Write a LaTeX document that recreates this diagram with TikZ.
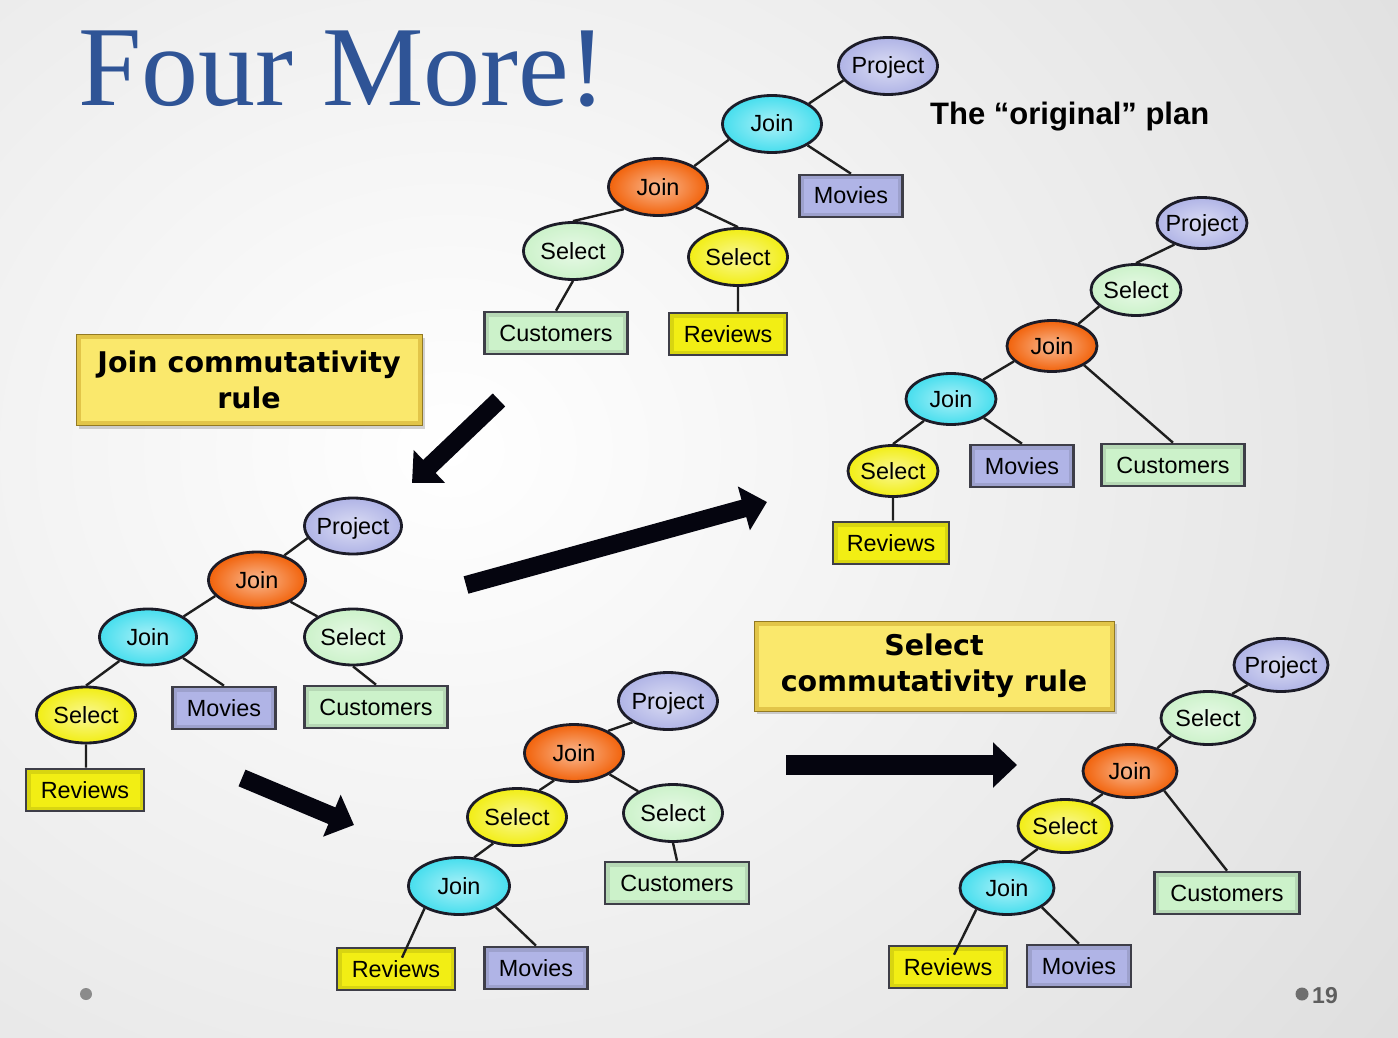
\documentclass[tikz,border=0pt]{standalone}
\usepackage{fontspec}
\setmainfont{Liberation Sans}
\newfontfamily\titleserif{Liberation Serif}
\newfontfamily\rulesans{DejaVu Sans}
\usetikzlibrary{shapes.geometric,arrows.meta,shadows}

% palette
\definecolor{projC}{RGB}{176,180,230}
\definecolor{cyanC}{RGB}{70,222,238}
\definecolor{orangeC}{RGB}{242,98,10}
\definecolor{greenC}{RGB}{204,242,202}
\definecolor{yellowC}{RGB}{242,238,20}
\definecolor{outlineC}{RGB}{28,28,40}
\definecolor{wireC}{RGB}{30,30,30}
\definecolor{ruleY}{RGB}{250,232,108}
\definecolor{ruleEdge}{RGB}{210,174,50}
\definecolor{titleblue}{RGB}{47,84,150}
\definecolor{bgOuter}{RGB}{212,212,212}
\definecolor{footC}{RGB}{110,110,110}
\definecolor{arrowC}{RGB}{5,5,15}

% zero-width label so the shape size comes only from the minimum dimensions
\newcommand\lbl[1]{\makebox[0pt][c]{#1}}
\newcommand\nodefont{\fontsize{23.4pt}{28pt}\selectfont}

\begin{document}
\begin{tikzpicture}[x=1pt,y=-1pt,
  opnode/.style={ellipse, draw=outlineC, line width=2.8pt, inner sep=0pt,
    minimum width=99pt, minimum height=57pt, text height=16pt, text depth=0pt,
    font=\nodefont, inner color=#1!45!white, outer color=#1},
  projnode/.style={opnode=projC},
  joinc/.style={opnode=cyanC},
  joino/.style={opnode=orangeC},
  selg/.style={opnode=greenC},
  sely/.style={opnode=yellowC},
  relbox/.style={rectangle, draw=outlineC!85!white, line width=2.6pt, inner sep=0pt,
    minimum height=42pt, text height=16pt, text depth=0pt, font=\nodefont, fill=#1,
    path picture={\draw[line width=9pt, #1!70!black, opacity=.35]
      (path picture bounding box.south west) rectangle (path picture bounding box.north east);}},
  movbox/.style={relbox=projC, minimum width=103pt},
  custbox/.style={relbox=greenC, minimum width=143pt},
  revbox/.style={relbox=yellowC, minimum width=118pt},
  small/.style={minimum width=90pt, minimum height=51pt},
  medium/.style={minimum width=94pt, minimum height=53pt},
  wire/.style={draw=wireC, line width=2.4pt},
  rulebox/.style={rectangle, fill=ruleY, draw=ruleEdge!70!black, line width=0.8pt,
    align=center, inner sep=0pt,
    font=\rulesans\bfseries\fontsize{28.5pt}{36pt}\selectfont,
    drop shadow={shadow xshift=3pt, shadow yshift=-3pt, opacity=.35},
    path picture={\draw[line width=9pt, ruleEdge, opacity=.6]
      (path picture bounding box.south west) rectangle (path picture bounding box.north east);}},
  bigarrow/.style={draw=arrowC, line width=18pt, -{Triangle[length=24pt,width=44pt]}}
]
\useasboundingbox (0,0) rectangle (1398,1038);

% slide background
\begin{scope}
  \clip (0,0) rectangle (1398,1038);
  \shade[inner color=white, outer color=bgOuter] (-1100,-900) rectangle (2000,1800);
\end{scope}

% title and caption
\node[anchor=base west, inner sep=0pt, font=\titleserif\fontsize{114pt}{114pt}\selectfont,
      text=titleblue] (title) at (78,106) {Four More!};
\node[anchor=base west, inner sep=0pt, font=\bfseries\fontsize{31pt}{36pt}\selectfont]
      (caption) at (930,125) {The “original” plan};

% ---- plan 1 (top)
\node[projnode] (t1p) at (888,66) {\lbl{Project}};
\node[joinc] (t1j1) at (772,124) {\lbl{Join}};
\node[joino] (t1j2) at (658,187) {\lbl{Join}};
\node[selg] (t1s1) at (573,251) {\lbl{Select}};
\node[sely] (t1s2) at (738,257) {\lbl{Select}};
\node[movbox] (t1m) at (851,196) {Movies};
\node[custbox] (t1c) at (556,333) {Customers};
\node[revbox] (t1r) at (728,334) {Reviews};

% ---- plan 2 (left)
\node[projnode, minimum width=97pt, minimum height=56pt] (t2p) at (353,526) {\lbl{Project}};
\node[joino, minimum width=97pt, minimum height=56pt] (t2j) at (257,580) {\lbl{Join}};
\node[joinc, minimum width=97pt, minimum height=56pt] (t2jc) at (148,637) {\lbl{Join}};
\node[selg, minimum width=97pt, minimum height=56pt] (t2sg) at (353,637) {\lbl{Select}};
\node[sely, minimum width=99pt, minimum height=56pt] (t2sy) at (86,715) {\lbl{Select}};
\node[movbox] (t2m) at (224,708) {Movies};
\node[custbox] (t2c) at (376,707) {Customers};
\node[revbox] (t2r) at (85,790) {Reviews};

% ---- plan 3 (upper right)
\node[projnode, small] (t3p) at (1202,223) {\lbl{Project}};
\node[selg, small] (t3s) at (1136,290) {\lbl{Select}};
\node[joino, small] (t3j) at (1052,346) {\lbl{Join}};
\node[joinc, small] (t3jc) at (951,399) {\lbl{Join}};
\node[sely, small] (t3sy) at (893,471) {\lbl{Select}};
\node[movbox] (t3m) at (1022,466) {Movies};
\node[custbox] (t3c) at (1173,465) {Customers};
\node[revbox, minimum width=116pt] (t3r) at (891,543) {Reviews};

% ---- plan 4 (bottom middle)
\node[projnode] (t4p) at (668,701) {\lbl{Project}};
\node[joino] (t4j) at (574,753) {\lbl{Join}};
\node[sely] (t4sy) at (517,817) {\lbl{Select}};
\node[selg] (t4sg) at (673,813) {\lbl{Select}};
\node[joinc, minimum width=101pt] (t4jc) at (459,886) {\lbl{Join}};
\node[custbox, minimum width=144pt] (t4c) at (677,883) {Customers};
\node[revbox] (t4r) at (396,969) {Reviews};
\node[movbox] (t4m) at (536,968) {Movies};

% ---- plan 5 (bottom right)
\node[projnode, medium] (t5p) at (1281,665) {\lbl{Project}};
\node[selg, medium] (t5s) at (1208,718) {\lbl{Select}};
\node[joino, medium] (t5j) at (1130,771) {\lbl{Join}};
\node[sely, medium] (t5sy) at (1065,826) {\lbl{Select}};
\node[joinc, medium] (t5jc) at (1007,888) {\lbl{Join}};
\node[custbox, minimum width=145pt] (t5c) at (1227,893) {Customers};
\node[revbox] (t5r) at (948,967) {Reviews};
\node[movbox, minimum width=104pt] (t5m) at (1079,966) {Movies};

% tree edges
\path[wire]
  (t1p.198) -- (t1j1.29)
  (t1j1.200) -- (t1j2.30)
  (t1j1.329) -- (t1m.north)
  (t1j2.213) -- (t1s1.north)
  (t1j2.332) -- (t1s2.north)
  (t1s1.south) -- (t1c.north)
  (t1s2.south) -- (t1s2.south |- t1r.north)
  (t2p.195) -- (t2j.42)
  (t2j.201) -- (t2jc.30)
  (t2j.327) -- (t2sg.150)
  (t2jc.220) -- (t2sy.north)
  (t2jc.329) -- (t2m.north)
  (t2sg.south) -- (t2c.north)
  (t2sy.south) -- (t2sy.south |- t2r.north)
  (t3p.218) -- (t3s.north)
  (t3s.204) -- (t3j.40)
  (t3j.202) -- (t3jc.31)
  (t3j.329) -- (t3c.north)
  (t3jc.219) -- (t3sy.north)
  (t3jc.330) -- (t3m.north)
  (t3sy.south) -- (t3sy.south |- t3r.north)
  (t4p.211) -- (t4j.33)
  (t4j.234) -- (t4sy.50)
  (t4j.329) -- (t4sg.148)
  (t4sy.228) -- (t4jc.62)
  (t4sg.south) -- (t4c.north)
  (t4jc.213) -- ([xshift=6pt,yshift=-11pt]t4r.north)
  (t4jc.330) -- (t4m.north)
  (t5p.211) -- (t5s.45)
  (t5s.206) -- (t5j.40)
  (t5j.220) -- (t5sy.42)
  (t5j.330) -- (t5c.north)
  (t5sy.220) -- (t5jc.62)
  (t5jc.215) -- ([xshift=6pt,yshift=-10pt]t5r.north)
  (t5jc.331) -- (t5m.north);

% rewrite-rule labels
\node[rulebox, minimum width=346pt, minimum height=91pt] (r1) at (249,380)
  {Join commutativity\\rule};
\node[rulebox, minimum width=360pt, minimum height=90pt] (r2) at (934,666)
  {Select\\commutativity rule};

% transformation arrows
\coordinate (a1s) at (499,400); \coordinate (a1e) at (412,483);
\coordinate (a2s) at (466,585); \coordinate (a2e) at (767,502);
\coordinate (a3s) at (242,778); \coordinate (a3e) at (354,825);
\coordinate (a4s) at (786,765); \coordinate (a4e) at (1017,765);
\draw[bigarrow] (a1s) -- (a1e);
\draw[bigarrow] (a2s) -- (a2e);
\draw[bigarrow] (a3s) -- (a3e);
\draw[bigarrow, line width=20pt] (a4s) -- (a4e);

% footer
\fill[footC!80!white] (86,994) circle (6pt);
\fill[footC] (1302,994) circle (6.5pt);
\node[anchor=base west, inner sep=0pt, text=footC!85!black,
      font=\bfseries\fontsize{23pt}{26pt}\selectfont] (pageno) at (1312,1003) {19};
\end{tikzpicture}
\end{document}
